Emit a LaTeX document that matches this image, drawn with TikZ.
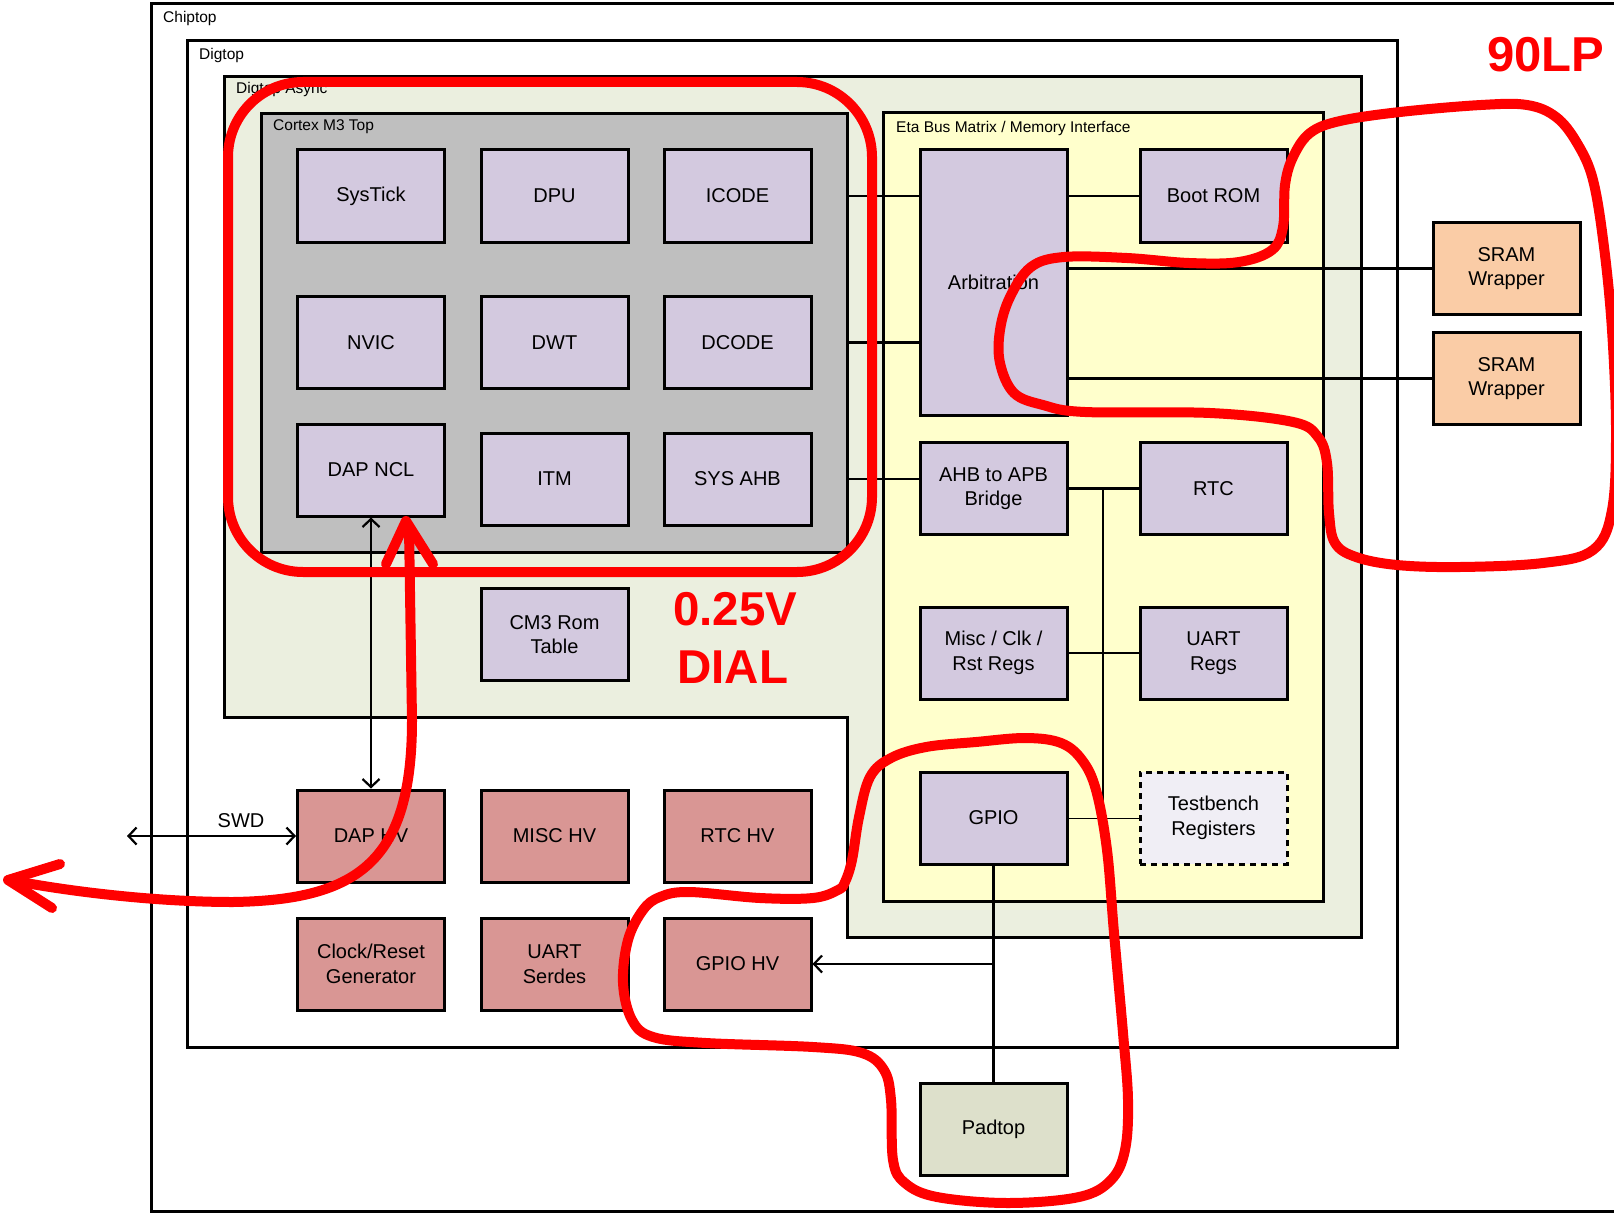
\documentclass[tikz,border=0pt]{standalone}
\usepackage{fontspec}
\setmainfont{Liberation Sans}
\usetikzlibrary{arrows.meta}
\definecolor{lav}{RGB}{211,201,223}
\definecolor{hvc}{RGB}{217,150,148}
\definecolor{sramc}{RGB}{250,204,166}
\definecolor{padc}{RGB}{221,224,203}
\definecolor{asyncc}{RGB}{235,239,223}
\definecolor{cmgray}{RGB}{191,191,191}
\definecolor{etac}{RGB}{255,255,204}
\definecolor{tbc}{RGB}{240,238,245}
\definecolor{annred}{RGB}{255,0,0}
\begin{document}
\begin{tikzpicture}[x=1pt,y=-1pt,
  blk/.style={draw=black, line width=3pt, minimum width=147pt, minimum height=92pt, inner sep=0pt, align=center, font=\fontsize{20}{24.5}\selectfont},
  lavblk/.style={blk, fill=lav},
  hvblk/.style={blk, fill=hvc},
  cont/.style={draw=black, line width=3pt},
  lbl/.style={anchor=base west, inner sep=0pt, font=\fontsize{15.5}{18}\selectfont},
  conn/.style={line width=2.2pt},
  barb/.tip={Straight Barb[length=8pt,width=17pt,line width=2.2pt]},
  ann/.style={draw=annred, line width=10pt, line cap=round, line join=round},
  anntxt/.style={anchor=base west, inner sep=0pt, text=annred, font=\bfseries\fontsize{47.5}{58}\selectfont}
]
\useasboundingbox (0,0) rectangle (1614,1217);
\fill[white] (0,0) rectangle (1614,1217);

% containers
\draw[cont] (1640,4) -- (151,4) -- (151,1211) -- (1640,1211);
\draw[cont] (187,41) rectangle (1397,1047);
\draw[cont, fill=asyncc] (224,77) -- (1361,77) -- (1361,937) -- (847,937) -- (847,717) -- (224,717) -- cycle;
\node[cont, fill=cmgray, minimum width=586pt, minimum height=438pt, inner sep=0pt] (cm3) at (554,333) {};
\node[cont, fill=etac, minimum width=440pt, minimum height=788pt, inner sep=0pt] (eta) at (1103,507) {};

\node[lbl] (chiptoplbl) at (163,23) {Chiptop};
\node[lbl] (digtoplbl) at (199,60) {Digtop};
\node[lbl] (asynclbl) at (236,94) {Digtop Async};
\node[lbl] (cm3lbl) at (273,131) {Cortex M3 Top};
\node[lbl] (etalbl) at (896,133) {Eta Bus Matrix / Memory Interface};

% Cortex M3 blocks
\node[lavblk] (systick) at (371,196) {SysTick};
\node[lavblk] (dpu) at (554.5,196) {DPU};
\node[lavblk] (icode) at (737.5,196) {ICODE};
\node[lavblk] (nvic) at (371,342.5) {NVIC};
\node[lavblk] (dwt) at (554.5,342.5) {DWT};
\node[lavblk] (dcode) at (737.5,342.5) {DCODE};
\node[lavblk] (dapncl) at (371,470) {DAP NCL};
\node[lavblk] (itm) at (554.5,479) {ITM};
\node[lavblk] (sysahb) at (737.5,479) {SYS AHB};
\node[lavblk] (cm3rom) at (554.5,634.5) {CM3 Rom\\Table};

% Eta blocks
\node[lavblk, minimum height=265pt] (arb) at (993.5,282.5) {Arbitration};
\node[lavblk] (boot) at (1213.5,196) {Boot ROM};
\node[lavblk] (bridge) at (993.5,488.5) {AHB to APB\\Bridge};
\node[lavblk] (rtc) at (1213.5,488.5) {RTC};
\node[lavblk] (misc) at (993.5,653) {Misc / Clk /\\Rst Regs};
\node[lavblk] (uartregs) at (1213.5,653) {UART\\Regs};
\node[lavblk] (gpio) at (993.5,818) {GPIO};
\node[blk, fill=tbc, dash pattern=on 6pt off 5pt] (tb) at (1213.5,818) {Testbench\\Registers};

% SRAM
\node[blk, fill=sramc] (sram1) at (1506.5,268.5) {SRAM\\Wrapper};
\node[blk, fill=sramc] (sram2) at (1506.5,378.5) {SRAM\\Wrapper};

% HV blocks
\node[hvblk] (daphv) at (371,836) {DAP HV};
\node[hvblk] (mischv) at (554.5,836) {MISC HV};
\node[hvblk] (rtchv) at (737.5,836) {RTC HV};
\node[hvblk] (clkgen) at (371,964) {Clock/Reset\\Generator};
\node[hvblk] (uartser) at (554.5,964) {UART\\Serdes};
\node[hvblk] (gpiohv) at (737.5,964) {GPIO HV};

\node[blk, fill=padc] (padtop) at (993.5,1129.5) {Padtop};

% connectors
\draw[conn] (cm3.east |- icode) -- (arb.west |- icode);
\draw[conn] (cm3.east |- dcode) -- (arb.west |- dcode);
\draw[conn] (cm3.east |- sysahb) -- (bridge.west |- sysahb);
\draw[conn] (arb.east |- boot) -- (boot.west);
\draw[conn] (arb.east |- sram1) -- (sram1.west);
\draw[conn] (arb.east |- sram2) -- (sram2.west);
\draw[conn] (bridge.east) -- (rtc.west);
\draw[conn] (misc.east) -- (uartregs.west);
\coordinate (bustop) at (1103,488.5);
\coordinate (busbot) at (1103,818);
\draw[conn] (bustop) -- (busbot);
\draw[line width=0.9pt] (gpio.east) -- (tb.west);
\draw[conn] (gpio.south) -- (padtop.north);
\coordinate (gbr) at (gpio.south |- gpiohv);
\draw[conn, -barb] (gbr) -- (gpiohv.east);
\draw[conn, barb-barb] (dapncl.south) -- (daphv.north);
\coordinate (swdl) at (127,836);
\draw[conn, barb-barb] (swdl) -- (daphv.west);
\node[font=\fontsize{20}{24}\selectfont, inner sep=0pt] (swdlbl) at (241,821) {SWD};

% red annotations
\draw[ann, rounded corners=75pt] (228,82) rectangle (872,572);
\draw[ann] (409,528) -- (412,720) .. controls (412,860) and (360,900) .. (233,902) .. controls (150,902) and (60,890) .. (10,880);
\draw[ann] (60,864) -- (8,880) -- (52,908);
\draw[ann] (386,564) -- (406,521) -- (433,564);
\draw[ann] plot[smooth cycle, tension=0.6] coordinates {(1285,185) (1293,157) (1310,133) (1340,121) (1400,112) (1481,105) (1527,105) (1556,117) (1577,143) (1593,180) (1604,247) (1612,330) (1616,430) (1612,510) (1593,550) (1543,563) (1460,567) (1397,565) (1356,557) (1335,543) (1329,513) (1327,463) (1318,437) (1293,422) (1210,413) (1085,412) (1043,405) (1014,393) (1000,363) (1000,330) (1010,297) (1031,267) (1064,257) (1127,258) (1189,263) (1239,262) (1272,250) (1283,227)};
\draw[ann] plot[smooth cycle, tension=0.6] coordinates {(845,882) (852,860) (859,817) (870,777) (891,758) (926,747) (976,742) (1026,738) (1061,743) (1082,760) (1096,790) (1107,850) (1114,933) (1123,1033) (1128,1100) (1125,1150) (1111,1180) (1079,1197) (1008,1203) (937,1197) (905,1183) (893,1160) (891,1100) (884,1070) (862,1053) (813,1047) (706,1043) (653,1037) (632,1020) (623,983) (628,940) (643,910) (660,897) (689,892) (760,898) (813,898) (838,890)};

\node[anntxt] (v025) at (673,625) {0.25V};
\node[anntxt] (dial) at (677,683) {DIAL};
\node[anntxt, font=\bfseries\fontsize{49}{58}\selectfont] (lp90) at (1487,72) {90LP};
\end{tikzpicture}
\end{document}
